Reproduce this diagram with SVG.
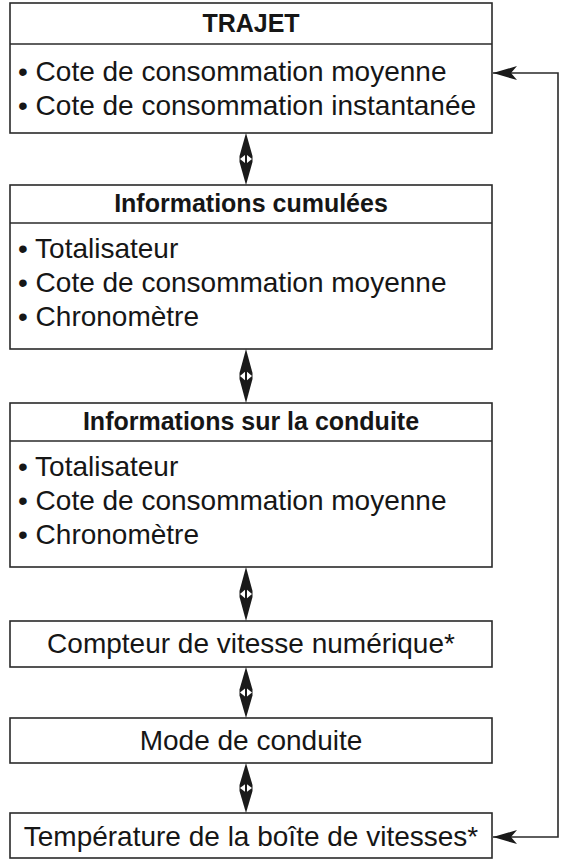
<svg xmlns="http://www.w3.org/2000/svg" width="562" height="862" viewBox="0 0 562 862">
<style>
.box{fill:#fff;stroke:#2a2a2a;stroke-width:1.6}
.sep{stroke:#2a2a2a;stroke-width:1.6}
.t{font-family:"Liberation Sans",Arial,Helvetica,sans-serif;font-size:28px;fill:#161616}
.h{font-family:"Liberation Sans",Arial,Helvetica,sans-serif;font-size:25px;font-weight:bold;fill:#161616}
.c{text-anchor:middle}
.line{fill:none;stroke:#2a2a2a;stroke-width:1.6}
.dbl{fill:#1a1a1a}
.hole{fill:#fff}
</style>
<defs>
<marker id="ah" viewBox="0 0 24 14" refX="24" refY="7" markerWidth="24" markerHeight="14" markerUnits="userSpaceOnUse" orient="auto-start-reverse">
<path d="M0,0 L24,7 L0,14 L6,7 z" fill="#1a1a1a"/>
</marker>
<g id="dblarrow">
<polygon class="dbl" points="0,-26 6.5,-3 6.5,3 0,26 -6.5,3 -6.5,-3"/>
<polygon class="hole" points="-1,-4 -1,4 -6,0"/>
<polygon class="hole" points="1,-4 1,4 6,0"/>
</g>
</defs>

<g id="trajet">
<rect class="box" x="10" y="3" width="482" height="130"/>
<line class="sep" x1="10" y1="44" x2="492" y2="44"/>
<text class="h c" x="251" y="32">TRAJET</text>
<text class="t" x="18" y="81">• Cote de consommation moyenne</text>
<text class="t" x="18" y="115">• Cote de consommation instantanée</text>
</g>

<g id="cumulees">
<rect class="box" x="10" y="185" width="482" height="164"/>
<line class="sep" x1="10" y1="223" x2="492" y2="223"/>
<text class="h c" x="251" y="212">Informations cumulées</text>
<text class="t" x="18" y="258">• Totalisateur</text>
<text class="t" x="18" y="292">• Cote de consommation moyenne</text>
<text class="t" x="18" y="326">• Chronomètre</text>
</g>

<g id="conduite">
<rect class="box" x="10" y="403" width="482" height="164"/>
<line class="sep" x1="10" y1="441" x2="492" y2="441"/>
<text class="h c" x="251" y="430">Informations sur la conduite</text>
<text class="t" x="18" y="476">• Totalisateur</text>
<text class="t" x="18" y="510">• Cote de consommation moyenne</text>
<text class="t" x="18" y="544">• Chronomètre</text>
</g>

<g id="compteur">
<rect class="box" x="10" y="621" width="482" height="46"/>
<text class="t c" x="251" y="653">Compteur de vitesse numérique*</text>
</g>

<g id="mode">
<rect class="box" x="10" y="718" width="482" height="45"/>
<text class="t c" x="251" y="750">Mode de conduite</text>
</g>

<g id="temperature">
<rect class="box" x="10" y="813" width="482" height="45"/>
<text class="t c" x="251" y="846">Température de la boîte de vitesses*</text>
</g>

<g id="connectors">
<use href="#dblarrow" transform="translate(246,159)"/>
<use href="#dblarrow" transform="translate(246,376) scale(1,1.04)"/>
<use href="#dblarrow" transform="translate(246,594) scale(1,1.04)"/>
<use href="#dblarrow" transform="translate(246,692.5) scale(1,0.98)"/>
<use href="#dblarrow" transform="translate(246,788) scale(1,0.96)"/>
<path class="line" d="M493,73 H558 V837 H493" marker-start="url(#ah)" marker-end="url(#ah)"/>
</g>
</svg>
